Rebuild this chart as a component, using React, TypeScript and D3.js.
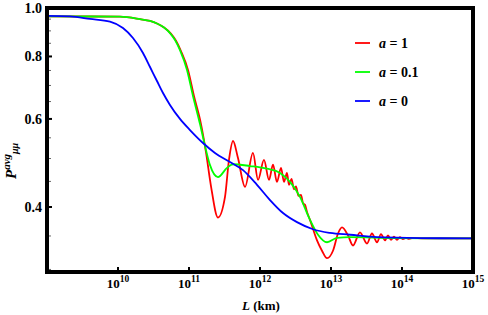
import React, { useRef, useEffect } from "react";
import * as d3 from "d3";

// [log10(L / km), P_avg]
const redPoints: [number, number][] = [
  [9.0, 0.962], [10.028, 0.961], [10.31, 0.95], [10.451, 0.942],
  [10.549, 0.931], [10.648, 0.914], [10.745, 0.889], [10.817, 0.86],
  [10.887, 0.82], [10.986, 0.752], [11.07, 0.667], [11.169, 0.586],
  [11.239, 0.515], [11.31, 0.44], [11.408, 0.381],
  [11.507, 0.419], [11.563, 0.497], [11.62, 0.542], [11.69, 0.501],
  [11.789, 0.439], [11.901, 0.513], [11.972, 0.453], [12.056, 0.497],
  [12.127, 0.453], [12.183, 0.486], [12.239, 0.449], [12.296, 0.479],
  [12.338, 0.449], [12.38, 0.468], [12.408, 0.443], [12.444, 0.455],
  [12.479, 0.434], [12.507, 0.44], [12.542, 0.421], [12.577, 0.423],
  [12.606, 0.407], [12.634, 0.404], [12.662, 0.391], [12.704, 0.377],
  [12.803, 0.343], [12.873, 0.327], [12.944, 0.316], [13.028, 0.327],
  [13.099, 0.354], [13.155, 0.364], [13.239, 0.351], [13.31, 0.335],
  [13.408, 0.356], [13.507, 0.338], [13.577, 0.354], [13.648, 0.34],
  [13.704, 0.353], [13.761, 0.343], [13.803, 0.351], [13.845, 0.344],
  [13.887, 0.349], [13.93, 0.344], [13.97, 0.348], [14.014, 0.345],
  [14.056, 0.347], [14.1, 0.3455], [14.15, 0.3468], [14.3, 0.3462],
  [15.0, 0.3462],
];

const greenPoints: [number, number][] = [
  [9.0, 0.962], [10.028, 0.961], [10.31, 0.95], [10.451, 0.942],
  [10.549, 0.931], [10.648, 0.914], [10.732, 0.891], [10.803, 0.863],
  [10.873, 0.824], [10.972, 0.752], [11.056, 0.667], [11.155, 0.586],
  [11.225, 0.53], [11.296, 0.485], [11.408, 0.459],
  [11.535, 0.479], [11.62, 0.487], [11.859, 0.483], [12.099, 0.477],
  [12.282, 0.468], [12.423, 0.449], [12.563, 0.419], [12.704, 0.377],
  [12.817, 0.352], [12.944, 0.34], [13.085, 0.347], [13.268, 0.348],
  [13.9, 0.3465], [15.0, 0.3462],
];

const bluePoints: [number, number][] = [
  [9.0, 0.964], [9.324, 0.962], [9.606, 0.951], [9.887, 0.939],
  [10.07, 0.912], [10.211, 0.871], [10.352, 0.813], [10.451, 0.762],
  [10.549, 0.7145], [10.634, 0.676], [10.732, 0.64], [10.873, 0.6],
  [11.014, 0.57], [11.197, 0.537], [11.366, 0.513], [11.577, 0.492],
  [11.761, 0.474], [11.958, 0.443], [12.141, 0.413], [12.324, 0.389],
  [12.521, 0.373], [12.746, 0.361], [12.986, 0.355], [13.268, 0.352],
  [13.648, 0.348], [14.254, 0.3465], [15.0, 0.3462],
];

const seriesNames = ["1", "0.1", "0"];
const seriesColors = ["#ff0000", "#00ff00", "#0000ff"];
const xTickExps = [10, 11, 12, 13, 14, 15];
const yTicks = [0.4, 0.6, 0.8, 1.0];
const yMinorTicks = [0.3, 0.35, 0.45, 0.5, 0.55, 0.65, 0.7, 0.75, 0.85, 0.9, 0.95];

function Chart() {
  const svgRef = useRef<SVGSVGElement | null>(null);

  const width = 488,
    height = 315;
  const plot = { left: 47, right: 473, top: 8, bottom: 272 };

  useEffect(() => {
    const svg = d3.select(svgRef.current);
    svg.selectAll("*").remove();

    const x = d3.scaleLog().domain([1e9, 1e15]).range([plot.left, plot.right]);
    const y = d3.scaleLog().domain([0.2965, 1.0]).range([plot.bottom, plot.top]);

    svg
      .append("defs")
      .append("clipPath")
      .attr("id", "plotclip")
      .append("rect")
      .attr("x", plot.left)
      .attr("y", plot.top)
      .attr("width", plot.right - plot.left)
      .attr("height", plot.bottom - plot.top);

    const line = d3
      .line<[number, number]>()
      .x((d) => x(Math.pow(10, d[0])))
      .y((d) => y(d[1]))
      .curve(d3.curveMonotoneX);

    const g = svg.append("g").attr("clip-path", "url(#plotclip)");
    [redPoints, greenPoints, bluePoints].forEach((pts, i) => {
      g.append("path")
        .attr("d", line(pts))
        .attr("fill", "none")
        .attr("stroke", seriesColors[i])
        .attr("stroke-width", 1.8);
    });

    // minor ticks on the left
    svg
      .selectAll(".yminor")
      .data(yMinorTicks)
      .join("line")
      .attr("x1", plot.left)
      .attr("x2", plot.left + 4)
      .attr("y1", (d) => y(d))
      .attr("y2", (d) => y(d))
      .attr("stroke", "#666")
      .attr("stroke-width", 1);

    // major ticks
    svg
      .selectAll(".ymajor")
      .data(yTicks)
      .join("line")
      .attr("x1", plot.left)
      .attr("x2", plot.left + 5)
      .attr("y1", (d) => y(d))
      .attr("y2", (d) => y(d))
      .attr("stroke", "black")
      .attr("stroke-width", 2);

    svg
      .selectAll(".xmajor")
      .data(xTickExps)
      .join("line")
      .attr("x1", (d) => x(Math.pow(10, d)))
      .attr("x2", (d) => x(Math.pow(10, d)))
      .attr("y1", plot.bottom)
      .attr("y2", plot.bottom - 5)
      .attr("stroke", "black")
      .attr("stroke-width", 2);

    // frame
    svg
      .append("rect")
      .attr("x", plot.left)
      .attr("y", plot.top)
      .attr("width", plot.right - plot.left)
      .attr("height", plot.bottom - plot.top)
      .attr("fill", "none")
      .attr("stroke", "black")
      .attr("stroke-width", 4);

    const font = "'Liberation Serif', 'Times New Roman', serif";

    // y tick labels
    svg
      .selectAll(".ylabel")
      .data(yTicks)
      .join("text")
      .attr("x", plot.left - 5)
      .attr("y", (d) => y(d))
      .attr("dy", "0.35em")
      .attr("text-anchor", "end")
      .attr("font-family", font)
      .attr("font-weight", "bold")
      .attr("font-size", 14)
      .text((d) => d.toFixed(1));

    // x tick labels
    const xl = svg
      .selectAll(".xlabel")
      .data(xTickExps)
      .join("text")
      .attr("x", (d) => x(Math.pow(10, d)))
      .attr("y", 288)
      .attr("text-anchor", "middle")
      .attr("font-family", font)
      .attr("font-weight", "bold")
      .attr("font-size", 13);
    xl.append("tspan").text("10");
    xl.append("tspan")
      .attr("dy", -6)
      .attr("font-size", 9.5)
      .text((d) => String(d));

    // x axis title
    const xt = svg
      .append("text")
      .attr("x", 261)
      .attr("y", 310)
      .attr("text-anchor", "middle")
      .attr("font-family", font)
      .attr("font-weight", "bold")
      .attr("font-size", 13);
    xt.append("tspan").attr("font-style", "italic").text("L");
    xt.append("tspan").text(" (km)");

    // y axis title
    const yt = svg
      .append("text")
      .attr("transform", "translate(16,179) rotate(-90)")
      .attr("font-family", font)
      .attr("font-weight", "bold")
      .attr("font-style", "italic")
      .attr("font-size", 15);
    yt.append("tspan").text("P");
    yt.append("tspan").attr("dy", -6).attr("font-size", 11).text("avg");
    yt.append("tspan").attr("dy", 8).attr("font-size", 10).text("\u03bc\u03bc");

    // legend
    const legendY = [43, 72, 101];
    seriesNames.forEach((name, i) => {
      svg
        .append("line")
        .attr("x1", 355)
        .attr("x2", 370)
        .attr("y1", legendY[i])
        .attr("y2", legendY[i])
        .attr("stroke", seriesColors[i])
        .attr("stroke-width", 1.8);
      const t = svg
        .append("text")
        .attr("x", 379)
        .attr("y", legendY[i])
        .attr("dy", "0.35em")
        .attr("font-family", font)
        .attr("font-weight", "bold")
        .attr("font-size", 14);
      t.append("tspan").attr("font-style", "italic").text("a");
      t.append("tspan").text(" = " + name);
    });
  }, []);

  return (
    <svg
      ref={svgRef}
      width={width}
      height={height}
      style={{ position: "absolute", left: 0, top: 0, background: "white" }}
    />
  );
}

export default function App() {
  return <Chart />;
}
